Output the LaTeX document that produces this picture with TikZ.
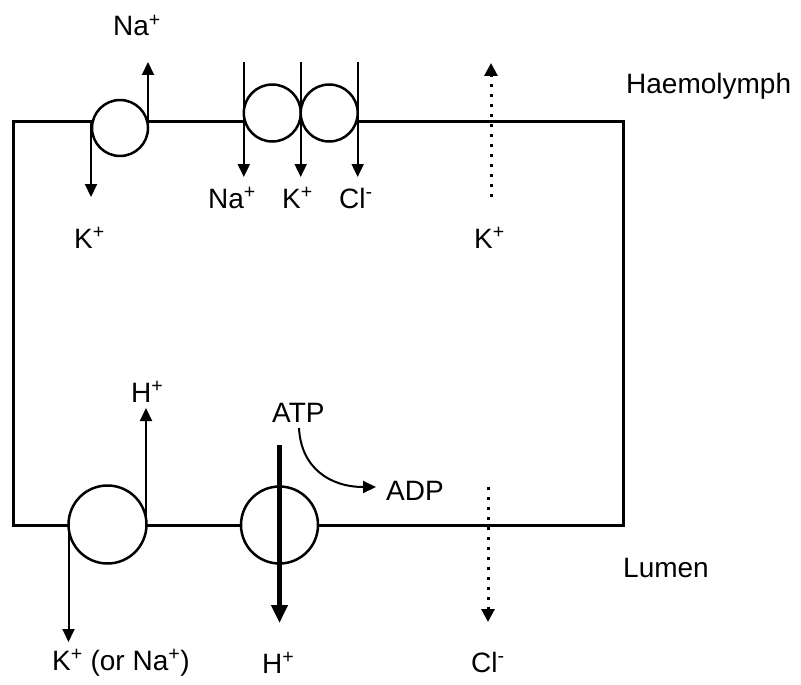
\documentclass[tikz,border=0pt]{standalone}
\usepackage{fontspec}
\setmainfont{Liberation Sans}
\usetikzlibrary{arrows.meta}
\begin{document}
\begin{tikzpicture}[x=1pt,y=-1pt,
  wall/.style={line width=3pt,line join=miter},
  carrier/.style={circle,draw,line width=2.5pt,fill=white,inner sep=0pt},
  flux/.style={line width=2pt,-{Triangle[width=12pt,length=13pt]}},
  bigflux/.style={line width=5pt,-{Triangle[width=16pt,length=18pt]}},
  leak/.style={line width=3pt,dash pattern=on 3pt off 7pt,-{Triangle[width=13pt,length=13pt]}},
  lab/.style={font=\fontsize{28}{32}\selectfont,inner sep=0pt,anchor=base west}]
\useasboundingbox (0,0) rectangle (801,685);
% cell outline
\draw[wall] (13,121) -- (623,121) -- (623,525) -- (13,525) -- cycle;
% carriers
\node[carrier,minimum size=56pt] (ca) at (120,128) {};
\node[carrier,minimum size=57pt] (cb) at (272.3,113) {};
\node[carrier,minimum size=57pt] (cc) at (329.2,113) {};
\node[carrier,minimum size=78pt] (cd) at (107.5,524.5) {};
\node[carrier,minimum size=77pt] (ce) at (279.5,525) {};
% labels
\node[lab] (naTop) at (113,36) {Na\textsuperscript{+}};
\node[lab] (kTopL) at (74,248) {K\textsuperscript{+}};
\node[lab] (naMid) at (208,208) {Na\textsuperscript{+}};
\node[lab] (kMid) at (282,208) {K\textsuperscript{+}};
\node[lab] (clMid) at (339,208) {Cl\textsuperscript{-}};
\node[lab] (kTopR) at (474,248) {K\textsuperscript{+}};
\node[lab] (haemo) at (626,93) {Haemolymph};
\node[lab] (hBotL) at (131,402) {H\textsuperscript{+}};
\node[lab] (kBot) at (52,670) {K\textsuperscript{+} (or Na\textsuperscript{+})};
\node[lab] (atp) at (272,422) {ATP};
\node[lab] (adp) at (386,500) {ADP};
\node[lab] (hBot) at (262,673) {H\textsuperscript{+}};
\node[lab] (clBot) at (471,672) {Cl\textsuperscript{-}};
\node[lab] (lumen) at (623,577) {Lumen};
% coordinates for free ends
\coordinate (a1s) at (148,121); \coordinate (a1e) at (148,62);
\coordinate (a2s) at (91,121);  \coordinate (a2e) at (91,197);
\coordinate (b1s) at (243.8,62); \coordinate (b1e) at (243.8,177);
\coordinate (b2s) at (300.7,62); \coordinate (b2e) at (300.7,177);
\coordinate (b3s) at (357.7,62); \coordinate (b3e) at (357.7,177);
\coordinate (k3s) at (491,197); \coordinate (k3e) at (491,63);
\coordinate (h1s) at (146,525); \coordinate (h1e) at (146,408);
\coordinate (k1s) at (68.5,525); \coordinate (k1e) at (68.5,642);
\coordinate (hps) at (279.5,445); \coordinate (hpe) at (279.5,623);
\coordinate (ats) at (299,428); \coordinate (ate) at (376,487);
\coordinate (cls) at (488,487); \coordinate (cle) at (488,622);
% fluxes
\draw[flux] (a1s) -- (a1e);
\draw[flux] (a2s) -- (a2e);
\draw[flux] (b1s) -- (b1e);
\draw[flux] (b2s) -- (b2e);
\draw[flux] (b3s) -- (b3e);
\draw[leak] (k3s) -- (k3e);
\draw[flux] (h1s) -- (h1e);
\draw[flux] (k1s) -- (k1e);
\draw[bigflux] (hps) -- (hpe);
\draw[flux] (ats) .. controls (301,468) and (330,487) .. (ate);
\draw[leak] (cls) -- (cle);
\end{tikzpicture}
\end{document}
